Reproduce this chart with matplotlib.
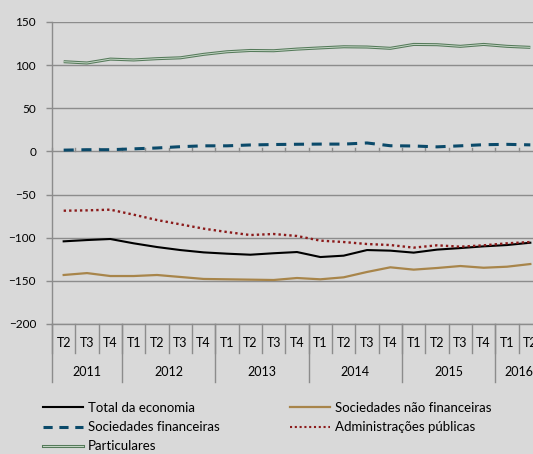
import matplotlib
matplotlib.use("Agg")
import matplotlib.pyplot as plt
from matplotlib.lines import Line2D
import matplotlib.patheffects as pe
import numpy as np

plt.rcParams['font.family'] = ['Lato', 'DejaVu Sans']

quarters = ["T2", "T3", "T4",
            "T1", "T2", "T3", "T4",
            "T1", "T2", "T3", "T4",
            "T1", "T2", "T3", "T4",
            "T1", "T2", "T3", "T4",
            "T1", "T2"]
years = ["2011", "2012", "2013", "2014", "2015", "2016"]
year_counts = [3, 4, 4, 4, 4, 2]

total_economia = [-104.2, -102.7, -101.5, -106.5, -110.8, -114.3, -117.0, -118.5, -119.7, -118.0,
                  -116.6, -122.4, -120.8, -114.3, -115.0, -117.3, -113.8, -112.0, -110.0, -108.5, -105.8]
soc_nao_fin = [-143.2, -141.0, -144.4, -144.4, -143.2, -145.5, -147.8, -148.2, -148.6, -149.0,
               -146.7, -148.2, -145.9, -139.7, -134.3, -137.0, -135.1, -132.8, -134.8, -133.6, -130.5]
soc_fin = [1.5, 2.0, 2.0, 3.0, 4.0, 5.5, 6.5, 6.5, 7.5, 8.0,
           8.3, 8.5, 8.5, 9.8, 6.6, 6.3, 5.3, 6.5, 7.8, 8.2, 7.6]
admin_pub = [-68.7, -68.3, -67.5, -73.3, -79.5, -84.5, -89.5, -93.4, -96.9, -95.7,
             -98.0, -103.4, -105.0, -107.3, -108.5, -111.5, -108.8, -110.4, -108.8, -106.5, -105.0]
particulares = [104.0, 102.5, 107.0, 106.0, 107.5, 108.5, 112.5, 115.5, 117.0, 116.7,
                118.6, 120.0, 121.3, 121.0, 119.5, 124.0, 123.7, 121.8, 124.0, 121.8, 120.6]

BG = "#D9D9D9"
GRID = "#8C8C8C"
C_TOTAL = "#000000"
C_SNF = "#A8854A"
C_SF = "#0B4A6A"
C_AP = "#8B1A1A"
C_PART_OUT = "#557A5A"
C_PART_IN = "#C5D6C6"

fig = plt.figure(figsize=(5.33, 4.54), dpi=100, facecolor=BG)
ax = fig.add_axes([52/533, 1-324/454, 490/533, 302/454], facecolor=BG)

x = np.arange(len(quarters))

ax.set_xlim(-0.5, len(quarters) - 0.5)
ax.set_ylim(-200, 150)
ax.set_yticks(np.arange(-200, 151, 50))
ax.yaxis.grid(True, color=GRID, linewidth=1.0)
ax.set_axisbelow(True)
for s in ["top", "right", "bottom"]:
    ax.spines[s].set_visible(False)
ax.spines["left"].set_color(GRID)
ax.spines["left"].set_linewidth(1.0)
ax.tick_params(axis="y", length=4.5, width=1.0, color=GRID, pad=7, labelsize=8.5, labelcolor="#000000")
ax.set_xticks([])

# axis line ticks at y=0
for b in np.arange(-0.5, len(quarters) - 0.4, 1.0):
    ax.plot([b, b], [0, 4.5], color=GRID, linewidth=1.0, clip_on=False, zorder=1)

# data lines
ax.plot(x, soc_nao_fin, color=C_SNF, linewidth=1.6, zorder=3)
ax.plot(x, total_economia, color=C_TOTAL, linewidth=1.5, zorder=4)
ax.plot(x, admin_pub, color=C_AP, linewidth=1.7, linestyle=(0, (1, 1.3)), zorder=4)
ax.plot(x, soc_fin, color=C_SF, linewidth=2.2, linestyle=(0, (3.3, 2.5)), zorder=4)
ax.plot(x, particulares, color=C_PART_OUT, linewidth=2.2, zorder=4, solid_capstyle='butt')
ax.plot(x, particulares, color=C_PART_IN, linewidth=0.7, zorder=5, solid_capstyle='butt')

# multi-level category axis
trans = ax.get_xaxis_transform()
h = 302.0
q_depth = -28.5 / h
y_depth = -57.5 / h
for i, q in enumerate(quarters):
    ax.text(i, -19.0 / h, q, transform=trans, ha="center", va="center", fontsize=9, clip_on=False)
boundaries = np.cumsum([0] + year_counts) - 0.5
for b in np.arange(-0.5, len(quarters) - 0.4, 1.0):
    ax.plot([b, b], [0, q_depth], transform=trans, color=GRID, linewidth=1.0, clip_on=False)
for b in boundaries[:-1]:
    ax.plot([b, b], [0, y_depth], transform=trans, color=GRID, linewidth=1.0, clip_on=False)
for k, yr in enumerate(years):
    c = (boundaries[k] + boundaries[k + 1]) / 2
    ax.text(c, -47.5 / h, yr, transform=trans, ha="center", va="center", fontsize=9, clip_on=False)
ax.plot([-0.5, len(quarters) - 0.5], [0, 0], transform=trans, color=GRID, linewidth=1.0, clip_on=False)

# legend
h_total = Line2D([], [], color=C_TOTAL, linewidth=1.5)
h_sf = Line2D([], [], color=C_SF, linewidth=2.2, linestyle=(0, (3.0, 2.2)))
h_part = Line2D([], [], color=C_PART_OUT, linewidth=2.2,
                path_effects=[pe.Stroke(linewidth=2.2, foreground=C_PART_OUT), pe.Stroke(linewidth=0.7, foreground=C_PART_IN)])
h_snf = Line2D([], [], color=C_SNF, linewidth=1.6)
h_ap = Line2D([], [], color=C_AP, linewidth=1.5, linestyle=(0, (1, 1.3)))

leg_kw = dict(frameon=False, fontsize=9.5, handlelength=3.0, handletextpad=0.38,
              labelspacing=0.54, borderpad=0, borderaxespad=0, loc="upper left")
fig.legend([h_total, h_sf, h_part], ["Total da economia", "Sociedades financeiras", "Particulares"],
           bbox_to_anchor=(43/533, 1-402.0/454), **leg_kw)
fig.legend([h_snf, h_ap], ["Sociedades não financeiras", "Administrações públicas"],
           bbox_to_anchor=(290/533, 1-402.0/454), **leg_kw)

fig.savefig("out.png", dpi=100, facecolor=BG)
